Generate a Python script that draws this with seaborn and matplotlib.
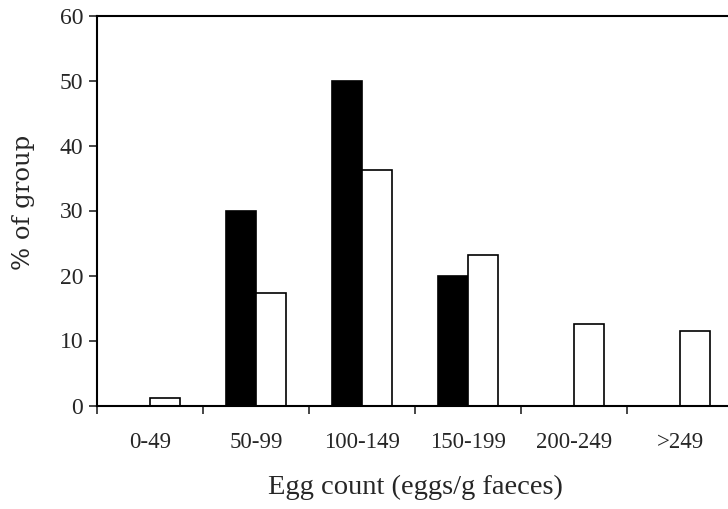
import pandas as pd
import matplotlib.pyplot as plt
import seaborn as sns

# egg count categories and % of group for the two groups
categories = ["0-49", "50-99", "100-149", "150-199", "200-249", ">249"]
group_black = [0, 30, 50, 20, 0, 0]
group_white = [1.1, 17.3, 36.2, 23.2, 12.5, 11.5]

df = pd.DataFrame({
    "category": categories * 2,
    "percent": group_black + group_white,
    "group": ["A"] * len(categories) + ["B"] * len(categories),
})

sns.set_style("ticks")
plt.rcParams["font.family"] = ["Liberation Serif", "DejaVu Serif"]

fig = plt.figure(figsize=(7.28, 5.09), dpi=100)
ax = fig.add_axes([97 / 728, 103.5 / 509, 636 / 728, 390 / 509])

sns.barplot(data=df, x="category", y="percent", hue="group", order=categories,
            palette=["black", "white"], edgecolor="black", linewidth=1.2,
            width=0.575, legend=False, ax=ax)

ax.set_xlim(-0.5, len(categories) - 0.5)
ax.set_ylim(0, 60)
ax.set_yticks(range(0, 61, 10))

# ticks between the groups, labels centred under them
ax.set_xticks(range(len(categories)))
ax.set_xticklabels(categories, fontsize=16.5)
ax.set_xticks([i - 0.5 for i in range(len(categories) + 1)], minor=True)
ax.tick_params(axis="x", which="major", length=0, pad=19)
ax.tick_params(axis="x", which="minor", length=6, width=1.2, direction="out")
ax.tick_params(axis="y", length=6, width=1.2, labelsize=17, pad=4)

for side in ["left", "bottom", "top"]:
    ax.spines[side].set_visible(True)
    ax.spines[side].set_linewidth(1.5)
    ax.spines[side].set_color("black")
ax.spines["right"].set_visible(False)

ax.set_xlabel("Egg count (eggs/g faeces)", fontsize=20.5, labelpad=16)
ax.set_ylabel("% of group", fontsize=17.5, family=["DejaVu Serif"])
ax.yaxis.set_label_coords(-0.097, 0.52)

fig.savefig("out.png", dpi=100, facecolor="white")
